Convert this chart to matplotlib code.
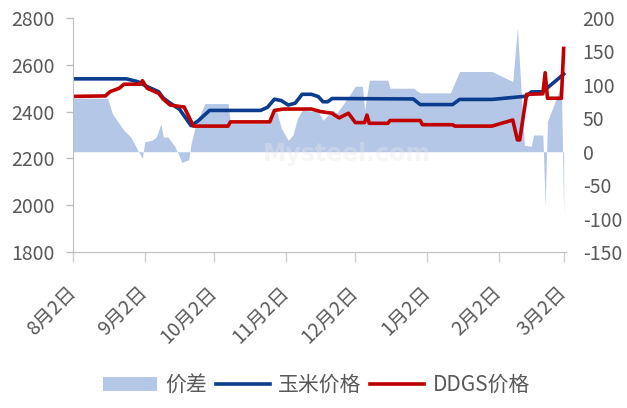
import pandas as pd
import matplotlib
matplotlib.use("Agg")
import matplotlib.pyplot as plt
from matplotlib.patches import Patch
from matplotlib.lines import Line2D
import matplotlib.transforms as mtransforms

plt.rcParams['font.family'] = ['Noto Sans CJK SC', 'DejaVu Sans']
plt.rcParams['axes.unicode_minus'] = False

# corn price (left axis), read at the points where the line bends
corn_dates = ["08-02", "08-25", "08-30", "09-03", "09-08", "09-10", "09-13", "09-17",
              "09-22", "09-25", "09-27", "09-30", "10-22", "10-25", "10-28", "10-31",
              "11-03", "11-06", "11-09", "11-13", "11-16", "11-18", "11-20", "11-22",
              "12-27", "12-30", "01-13", "01-16", "01-30", "02-14", "02-16", "02-21",
              "03-02"]
corn_price = [2540, 2540, 2528, 2507, 2485, 2458, 2436, 2410,
              2340, 2360, 2378, 2405, 2405, 2418, 2453, 2447,
              2428, 2436, 2474, 2474, 2464, 2442, 2442, 2456,
              2454, 2430, 2430, 2452, 2452, 2466, 2484, 2485,
              2560]

# DDGS price (left axis)
ddgs_dates = ["08-02", "08-16", "08-18", "08-22", "08-24", "08-31", "09-01", "09-03",
              "09-08", "09-10", "09-13", "09-17", "09-19", "09-23", "10-08", "10-09",
              "10-26", "10-28", "11-01", "11-13", "11-17", "11-22", "11-23", "11-25",
              "11-29", "12-02", "12-06", "12-07", "12-08", "12-16", "12-17", "12-30",
              "12-31", "01-13", "01-14", "01-30", "02-08", "02-10", "02-11", "02-14",
              "02-21", "02-22", "02-23", "03-01", "03-02"]
ddgs_price = [2465, 2467, 2485, 2500, 2517, 2517, 2532, 2500,
              2478, 2453, 2428, 2422, 2420, 2338, 2338, 2356,
              2356, 2405, 2411, 2411, 2400, 2393, 2385, 2373,
              2393, 2353, 2353, 2385, 2350, 2350, 2362, 2362,
              2344, 2344, 2338, 2338, 2364, 2279, 2279, 2474,
              2476, 2566, 2457, 2457, 2670]

# spread (right axis)
spread_dates = ["08-02", "08-17", "08-19", "08-24", "08-27", "08-30", "09-01", "09-02",
                "09-05", "09-07", "09-09", "09-10", "09-12", "09-15", "09-17", "09-18",
                "09-21", "09-22", "09-24", "09-28", "10-08", "10-09", "10-26", "10-27",
                "10-29", "10-31", "11-03", "11-05", "11-07", "11-09", "11-16", "11-18",
                "11-22", "11-24", "11-28", "12-02", "12-05", "12-06", "12-08", "12-16",
                "12-17", "12-27", "12-30", "01-12", "01-16", "01-30", "02-08", "02-10",
                "02-13", "02-16", "02-17", "02-21", "02-22", "02-23", "03-01", "03-02"]
spread = [80, 80, 57, 32, 22, 2, -10, 15,
          17, 22, 42, 22, 22, 8, -7, -16,
          -12, 12, 40, 72, 72, 42, 42, 62,
          60, 35, 17, 25, 50, 62, 60, 47,
          62, 58, 77, 98, 98, 62, 107, 107,
          95, 95, 88, 88, 120, 120, 105, 185,
          10, 8, 25, 25, -80, 45, 100, -95]

tick_dates = ["08-02", "09-02", "10-02", "11-02", "12-02", "01-02", "02-02", "03-02"]
tick_labels = ["8月2日", "9月2日", "10月2日", "11月2日", "12月2日", "1月2日", "2月2日", "3月2日"]


def to_dates(md):
    # season runs Aug 2022 -> Mar 2023
    return pd.to_datetime([("2022-" if int(s[:2]) >= 8 else "2023-") + s for s in md])


AREA = "#B4C7E7"
BLUE = "#0B3C8E"
RED = "#C00000"
GREY = "#595959"

fig = plt.figure(figsize=(6.27, 4.08), dpi=100)
ax = fig.add_axes([73 / 627, 1 - 252 / 408, (566 - 73) / 627, 234 / 408])
ax2 = ax.twinx()
ax.set_zorder(ax2.get_zorder() + 1)
ax.patch.set_visible(False)

sd = to_dates(spread_dates)
ax2.fill_between(sd, 0, spread, color=AREA, lw=0)
# faint watermark
ax2.text(0.555, 0.42, "Mysteel.com", transform=ax2.transAxes, ha="center", va="center",
         fontsize=17, fontweight="bold", color="#e8e8e8", alpha=0.35, family="DejaVu Sans")

ax.plot(to_dates(corn_dates), corn_price, color=BLUE, lw=2.6, solid_joinstyle="round")
ax.plot(to_dates(ddgs_dates), ddgs_price, color=RED, lw=2.6, solid_joinstyle="round")

ax.set_xlim(pd.Timestamp("2022-08-02"), pd.Timestamp("2023-03-03"))
ax.set_ylim(1800, 2800)
ax.set_yticks(range(1800, 2801, 200))
ax2.set_ylim(-150, 200)
ax2.set_yticks(range(-150, 201, 50))

ax.set_xticks(to_dates(tick_dates))
ax.set_xticklabels(tick_labels, rotation=45, ha="right", va="center", rotation_mode="anchor")
offset = mtransforms.ScaledTranslation(-1 / 100, 0, fig.dpi_scale_trans)
for lab in ax.get_xticklabels():
    lab.set_transform(lab.get_transform() + offset)

for s in ["top", "right"]:
    ax.spines[s].set_visible(False)
for s in ax2.spines.values():
    s.set_visible(False)
ax.spines["left"].set_color("#BFBFBF")
ax.spines["bottom"].set_color("#BFBFBF")

ax.tick_params(axis="x", length=7, width=1, color="#D0D0D0", pad=20, labelsize=14, labelcolor=GREY)
ax.tick_params(axis="y", length=5, width=1, color="#BFBFBF", pad=8, labelsize=14, labelcolor=GREY)
ax2.tick_params(axis="y", length=0, pad=12, labelsize=14, labelcolor=GREY)

handles = [Patch(color=AREA, lw=0), Line2D([], [], color=BLUE, lw=2.6), Line2D([], [], color=RED, lw=2.6)]
fig.legend(handles, ["价差", "玉米价格", "DDGS价格"], loc="center", bbox_to_anchor=(0.505, 0.056),
           ncol=3, frameon=False, fontsize=15, handlelength=2.6, handletextpad=0.4,
           columnspacing=0.4, labelcolor=GREY)

fig.savefig("out.png", dpi=100)
